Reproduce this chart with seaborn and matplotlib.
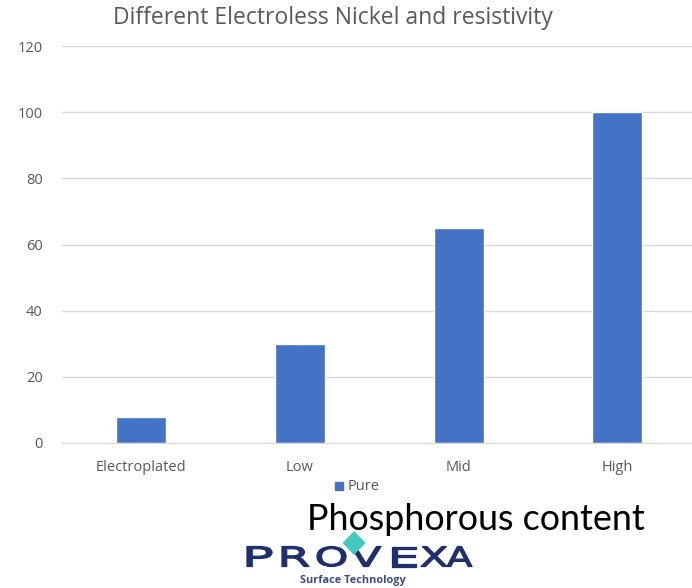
import matplotlib
matplotlib.use("Agg")
import matplotlib.pyplot as plt
from matplotlib.patches import Polygon, PathPatch
from matplotlib.textpath import TextPath
from matplotlib.font_manager import FontProperties
from matplotlib.transforms import Affine2D
import seaborn as sns
import pandas as pd

categories = ["Electroplated", "Low", "Mid", "High"]
resistivity = [8, 30, 65, 100]
series_name = "Pure"
y_ticks = [0, 20, 40, 60, 80, 100, 120]

sns.set_style("white")
plt.rcParams["font.family"] = ["Open Sans", "DejaVu Sans"]

W, H = 692, 588
df = pd.DataFrame({"Phosphorus": categories, "Resistivity": resistivity,
                   "Series": series_name})

fig = plt.figure(figsize=(W / 100, H / 100), dpi=100)
ax = fig.add_axes([62 / W, 145 / H, 630 / W, 397 / H])

bar_color = "#4472C4"
text_gray = "#595959"
sns.barplot(data=df, x="Phosphorus", y="Resistivity", hue="Series",
            palette=[bar_color], width=0.315, ax=ax, legend=False,
            saturation=1)

ax.set_ylim(0, 120)
ax.set_yticks(y_ticks)
ax.set_xlim(-0.5, 3.47)
ax.grid(axis="y", color="#d9d9d9", linewidth=1)
ax.set_axisbelow(True)
for side in ["left", "right", "top"]:
    ax.spines[side].set_visible(False)
ax.spines["bottom"].set_color("#d9d9d9")
ax.tick_params(axis="both", length=0, colors=text_gray, labelsize=10.5)
ax.tick_params(axis="y", pad=14)
ax.tick_params(axis="x", pad=12)
ax.set_xlabel("")
ax.set_ylabel("")

# chart title
fig.text(333 / W, 1 - 18 / H, "Different Electroless Nickel and resistivity",
         ha="center", va="center", fontsize=16.5, color=text_gray)

# legend entry
fig.patches.append(plt.Rectangle((335 / W, 1 - 490 / H), 8 / W, 8 / H,
                                 transform=fig.transFigure, color=bar_color))
fig.text(348 / W, 1 - 486 / H, series_name, ha="left", va="center",
         fontsize=10.5, color=text_gray)

# axis caption
fig.text(476 / W, 1 - 519 / H, "Phosphorous content", ha="center",
         va="center", fontsize=25.8, color="black",
         family=["Lato", "DejaVu Sans"])

# company logo drawn on a pixel-space overlay
logo = fig.add_axes([0, 0, 1, 1], facecolor="none")
logo.set_xlim(0, W)
logo.set_ylim(0, H)
logo.axis("off")

navy = "#1f2f6e"
logo_font = FontProperties(family="DejaVu Sans", weight="normal")
letter_boxes = [("P", 247, 272), ("R", 282, 309), ("O", 317, 346),
                ("V", 351, 381), ("E", 392, 416), ("X", 421, 447),
                ("A", 447, 472)]
top_px, bottom_px = 546.5, 566.5
for ch, x0, x1 in letter_boxes:
    tp = TextPath((0, 0), ch, size=20, prop=logo_font)
    ext = tp.get_extents()
    sx = (x1 - x0) / ext.width
    sy = (bottom_px - top_px) / ext.height
    tr = (Affine2D().translate(-ext.x0, -ext.y0).scale(sx, sy)
          .translate(x0, H - bottom_px))
    logo.add_patch(PathPatch(tr.transform_path(tp), facecolor=navy,
                             edgecolor=navy, lw=0.9, joinstyle="round"))

cx, cy, hw, hh = 354, H - 543, 11.5, 12
logo.add_patch(Polygon([(cx, cy + hh), (cx + hw, cy), (cx, cy - hh),
                        (cx - hw, cy)], closed=True, color="#45c8bd", lw=0))
logo.text(353, H - 581, "Surface Technology", ha="center", va="center",
          fontsize=7.8, fontweight="bold", color="#3a4a8c")

fig.savefig("out.png", dpi=100)
